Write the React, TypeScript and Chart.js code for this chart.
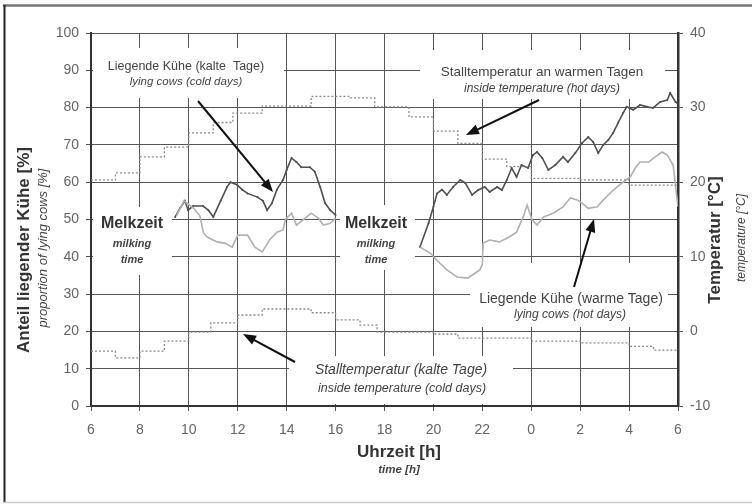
import React, { useEffect, useRef } from "react";
import { Chart, registerables } from "chart.js";

Chart.register(...registerables);

// ---------- data ----------
const xTickLabels = ["6", "8", "10", "12", "14", "16", "18", "20", "22", "0", "2", "4", "6"];

// lying cows, cold days (%), morning / evening milking periods
const coldCowsAmHours = [9.44, 9.64, 9.84, 9.97, 10.17, 10.58, 10.8, 11.0, 11.3, 11.56, 11.7, 11.97, 12.18, 12.4, 12.8, 13.03, 13.2, 13.4, 13.6, 13.85, 14.0, 14.2, 14.4, 14.6, 14.95, 15.15, 15.37, 15.57, 15.78, 16.0];
const coldCowsAmValues = [50.7, 53, 55, 52.5, 53.6, 53.6, 52.5, 50.7, 55, 58.7, 60, 59.3, 58, 57, 56, 55, 52.5, 54.4, 58, 60.6, 63.3, 66.5, 65.4, 64, 64, 62.8, 58.7, 54.4, 52.5, 51.2];
const coldCowsPmHours = [19.45, 19.8, 20.0, 20.15, 20.35, 20.55, 20.8, 21.1, 21.3, 21.58, 21.83, 22.1, 22.3, 22.6, 22.8, 23.0, 23.2, 23.4, 23.6, 23.87, 24.07, 24.24, 24.45, 24.7, 24.98, 25.3, 25.5, 25.8, 26.08, 26.33, 26.53, 26.74, 26.94, 27.15, 27.35, 27.55, 27.76, 27.9, 28.17, 28.45, 28.74, 28.98, 29.27, 29.56, 29.68, 29.9, 30.0];
const coldCowsPmValues = [42.6, 49, 53.4, 57, 58, 56.6, 58.7, 60.6, 59.8, 56.6, 57.9, 58.7, 57.4, 58.7, 57.9, 60.6, 63.8, 61.4, 64.6, 63.8, 67.3, 68.1, 66.5, 63.3, 64.6, 66.8, 65.4, 67.8, 70.5, 72.1, 70.8, 67.8, 70, 71.3, 73.2, 75.9, 78.6, 80.2, 79.4, 80.7, 80.2, 79.9, 81.5, 82, 83.9, 81.5, 81];

// lying cows, warm days (%)
const warmCowsAmHours = [9.5, 9.8, 10.2, 10.45, 10.6, 10.75, 11.15, 11.5, 11.77, 12.0, 12.4, 12.7, 13.0, 13.3, 13.6, 13.85, 13.95, 14.2, 14.4, 14.67, 15.0, 15.3, 15.5, 15.78, 16.0];
const warmCowsAmValues = [51, 55, 53, 51, 46.4, 45.3, 44, 43.6, 42.6, 45.8, 45.8, 42.6, 41.3, 44.5, 46.6, 47.2, 50, 51.7, 48.5, 49.9, 51.7, 50.4, 48.5, 49, 50.4];
const warmCowsPmHours = [19.45, 19.87, 20.15, 20.55, 20.97, 21.4, 21.7, 21.9, 22.0, 22.03, 22.3, 22.7, 23.1, 23.4, 23.67, 23.83, 24.03, 24.24, 24.5, 24.9, 25.3, 25.6, 25.88, 26.08, 26.33, 26.7, 26.94, 27.23, 27.5, 27.76, 28.05, 28.25, 28.45, 28.8, 29.07, 29.35, 29.56, 29.8, 30.0];
const warmCowsPmValues = [42.6, 41, 39, 36.5, 34.6, 34.3, 35.6, 36.5, 38, 43.7, 44.5, 44, 45.3, 46.6, 50.7, 53.9, 49.9, 48.5, 50.7, 51.7, 53.4, 55.8, 55.2, 54.4, 53, 53.4, 55.2, 57.1, 58.7, 60, 61.4, 63.8, 65.4, 65.4, 66.8, 68.1, 67.3, 64.6, 53.4];

// inside temperature (°C), hourly steps
const hotTempHours = [6, 7, 8, 9, 10, 11, 11.8, 13, 15, 16.6, 17.6, 19, 20, 21, 22, 23, 24, 26, 28, 30];
const hotTempValues = [20.3, 21.25, 23.4, 24.7, 26.6, 28, 29.25, 30.2, 31.5, 31.3, 30.1, 28.75, 26.85, 25.2, 23.1, 22.1, 20.5, 20.3, 19.6, 19.6];
const coldTempHours = [6, 7, 8, 9, 10, 10.9, 12, 13, 15, 16, 17, 17.7, 20, 21, 24, 26, 28, 29, 30];
const coldTempValues = [-2.65, -3.55, -2.65, -1.3, -0.1, 1.15, 2.2, 3, 2.5, 1.55, 0.85, -0.1, -0.35, -0.9, -1.3, -1.55, -2, -2.5, -2.5];

// ---------- helpers ----------
const FONT = "'Liberation Sans', Arial, Helvetica, sans-serif";
const pts = (h: number[], v: number[]) => h.map((x, i) => ({ x, y: v[i] }));
const withGap = (h1: number[], v1: number[], h2: number[], v2: number[]) => [
  ...pts(h1, v1),
  { x: (h1[h1.length - 1] + h2[0]) / 2, y: null as any },
  ...pts(h2, v2),
];

function arrow(ctx: CanvasRenderingContext2D, x1: number, y1: number, x2: number, y2: number) {
  const a = Math.atan2(y2 - y1, x2 - x1);
  const L = 13, W = 5;
  ctx.beginPath();
  ctx.moveTo(x1, y1);
  ctx.lineTo(x2 - L * 0.7 * Math.cos(a), y2 - L * 0.7 * Math.sin(a));
  ctx.stroke();
  ctx.beginPath();
  ctx.moveTo(x2, y2);
  ctx.lineTo(x2 - L * Math.cos(a) + W * Math.sin(a), y2 - L * Math.sin(a) - W * Math.cos(a));
  ctx.lineTo(x2 - L * Math.cos(a) - W * Math.sin(a), y2 - L * Math.sin(a) + W * Math.cos(a));
  ctx.closePath();
  ctx.fill();
}

function text(ctx: CanvasRenderingContext2D, s: string, x: number, y: number, font: string, color: string, rot = 0) {
  ctx.save();
  ctx.font = font;
  ctx.fillStyle = color;
  ctx.textAlign = "center";
  ctx.textBaseline = "middle";
  ctx.translate(x, y);
  if (rot) ctx.rotate(rot);
  ctx.fillText(s, 0, 0);
  ctx.restore();
}

const decor = {
  id: "decor",
  beforeDraw(chart: any) {
    const ctx: CanvasRenderingContext2D = chart.ctx;
    ctx.save();
    ctx.fillStyle = "#fff";
    ctx.fillRect(0, 0, chart.width, chart.height);
    const line = (x1: number, y1: number, x2: number, y2: number, c: string, w: number) => {
      ctx.strokeStyle = c;
      ctx.lineWidth = w;
      ctx.beginPath();
      ctx.moveTo(x1, y1);
      ctx.lineTo(x2, y2);
      ctx.stroke();
    };
    line(3, 5.5, 752, 5.5, "#777", 2.5);
    line(4.5, 5, 4.5, 503, "#222", 2);
    line(3, 502.5, 752, 502.5, "#ccc", 1.5);
    ctx.restore();
  },
  beforeDatasetsDraw(chart: any) {
    const ctx: CanvasRenderingContext2D = chart.ctx;
    ctx.save();
    ctx.fillStyle = "#fff";
    const boxes = [
      [93, 48, 284, 98],
      [420, 50, 665, 99],
      [470, 263, 668, 327],
      [289, 356, 513, 404],
      [93, 207, 172, 275],
      [340, 205, 415, 270],
    ];
    boxes.forEach(([x1, y1, x2, y2]) => ctx.fillRect(x1, y1, x2 - x1, y2 - y1));
    ctx.restore();
  },
  afterDatasetsDraw(chart: any) {
    const ctx: CanvasRenderingContext2D = chart.ctx;
    const dark = "#333";
    const mid = "#444";
    // annotations
    text(ctx, "Liegende Kühe (kalte  Tage)", 186, 67, `12.5px ${FONT}`, mid);
    text(ctx, "lying cows (cold days)", 186, 82, `italic 11.5px ${FONT}`, mid);
    text(ctx, "Stalltemperatur an warmen Tagen", 542, 72, `13.5px ${FONT}`, mid);
    text(ctx, "inside temperature (hot days)", 542, 89, `italic 12px ${FONT}`, mid);
    text(ctx, "Liegende Kühe (warme Tage)", 571, 299, `14px ${FONT}`, mid);
    text(ctx, "lying cows (hot days)", 570, 315, `italic 12px ${FONT}`, mid);
    text(ctx, "Stalltemperatur (kalte Tage)", 401, 370, `italic 14px ${FONT}`, mid);
    text(ctx, "inside temperature (cold days)", 402, 389, `italic 12.5px ${FONT}`, mid);
    [132, 376].forEach((cx) => {
      text(ctx, "Melkzeit", cx, 224, `bold 16px ${FONT}`, dark);
      text(ctx, "milking", cx, 244, `italic bold 11px ${FONT}`, mid);
      text(ctx, "time", cx, 260, `italic bold 11px ${FONT}`, mid);
    });
    // axis titles
    text(ctx, "Anteil liegender Kühe [%]", 24, 250, `bold 17px ${FONT}`, dark, -Math.PI / 2);
    text(ctx, "proportion of lying cows [%]", 43, 248, `italic 13px ${FONT}`, mid, -Math.PI / 2);
    text(ctx, "Temperatur [°C]", 715, 240, `bold 17px ${FONT}`, dark, -Math.PI / 2);
    text(ctx, "temperature [°C]", 742, 238, `italic 12px ${FONT}`, mid, -Math.PI / 2);
    text(ctx, "Uhrzeit [h]", 399, 452, `bold 17px ${FONT}`, dark);
    text(ctx, "time [h]", 399, 470, `italic bold 11.5px ${FONT}`, mid);
    // arrows
    ctx.save();
    ctx.strokeStyle = "#111";
    ctx.fillStyle = "#111";
    ctx.lineWidth = 2;
    arrow(ctx, 198, 101, 273, 192);
    arrow(ctx, 539, 100, 466, 135);
    arrow(ctx, 574, 287, 594, 219);
    arrow(ctx, 295, 362, 243, 334);
    ctx.restore();
  },
};

export default function App() {
  const ref = useRef<HTMLCanvasElement | null>(null);

  useEffect(() => {
    if (!ref.current) return;
    const tickFont = { family: FONT, size: 14 };
    const chart = new Chart(ref.current, {
      type: "line",
      data: {
        datasets: [
          {
            label: "Stalltemperatur (warme Tage)",
            data: pts(hotTempHours, hotTempValues),
            yAxisID: "y2",
            borderColor: "#8a8a8a",
            borderWidth: 1.3,
            borderDash: [2, 2],
            stepped: true,
            pointRadius: 0,
          },
          {
            label: "Stalltemperatur (kalte Tage)",
            data: pts(coldTempHours, coldTempValues),
            yAxisID: "y2",
            borderColor: "#8a8a8a",
            borderWidth: 1.3,
            borderDash: [2, 2],
            stepped: true,
            pointRadius: 0,
          },
          {
            label: "Liegende Kühe (warme Tage)",
            data: withGap(warmCowsAmHours, warmCowsAmValues, warmCowsPmHours, warmCowsPmValues),
            yAxisID: "y",
            borderColor: "#b0b0b0",
            borderWidth: 1.6,
            pointRadius: 0,
            spanGaps: false,
          },
          {
            label: "Liegende Kühe (kalte Tage)",
            data: withGap(coldCowsAmHours, coldCowsAmValues, coldCowsPmHours, coldCowsPmValues),
            yAxisID: "y",
            borderColor: "#505050",
            borderWidth: 1.6,
            pointRadius: 1,
            pointBackgroundColor: "#505050",
            pointBorderWidth: 0,
            spanGaps: false,
          },
        ],
      },
      options: {
        responsive: false,
        maintainAspectRatio: false,
        animation: false,
        events: [],
        layout: { padding: { top: 33, left: 0, right: 0, bottom: 0 } },
        plugins: { legend: { display: false }, tooltip: { enabled: false } },
        scales: {
          x: {
            type: "linear",
            min: 6,
            max: 30,
            ticks: {
              stepSize: 2,
              autoSkip: false,
              maxRotation: 0,
              color: "#666",
              font: tickFont,
              padding: 11,
              callback: (_v: any, i: number) => xTickLabels[i],
            },
            grid: { color: "#555", lineWidth: 1, tickLength: 5 },
            border: { color: "#333", width: 2 },
            afterFit: (s: any) => {
              s.height = 98;
            },
          },
          y: {
            position: "left",
            min: 0,
            max: 100,
            ticks: { stepSize: 10, color: "#666", font: tickFont, padding: 7 },
            grid: { color: "#555", lineWidth: 1, tickLength: 5 },
            border: { color: "#333", width: 2 },
            afterFit: (s: any) => {
              s.width = 91;
            },
          },
          y2: {
            position: "right",
            min: -10,
            max: 40,
            ticks: { stepSize: 10, color: "#666", font: tickFont, padding: 7 },
            grid: { drawOnChartArea: false, color: "#555", tickLength: 5 },
            border: { color: "#333", width: 2.5 },
            afterFit: (s: any) => {
              s.width = 74;
            },
          },
        },
      },
      plugins: [decor],
    } as any);
    return () => chart.destroy();
  }, []);

  return (
    <div style={{ position: "absolute", left: 0, top: 0, width: 752, height: 504, background: "#fff" }}>
      <canvas ref={ref} width={752} height={504} style={{ display: "block", width: 752, height: 504 }} />
    </div>
  );
}
